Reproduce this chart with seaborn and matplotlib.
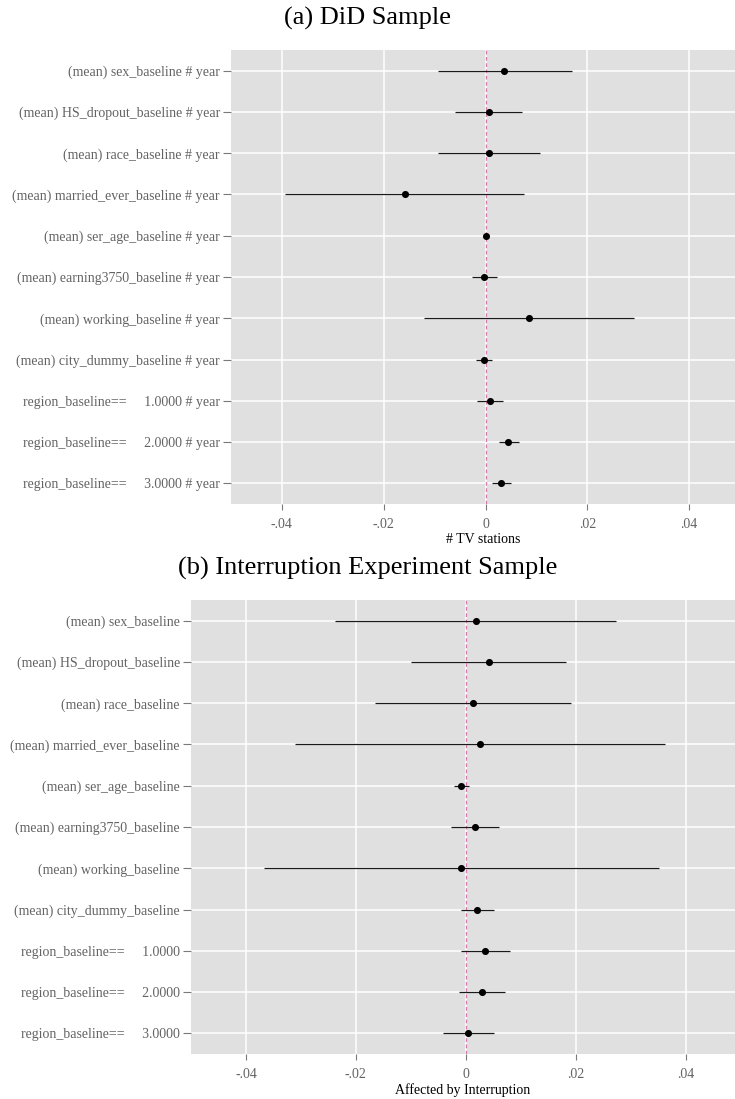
import numpy as np
import pandas as pd
import matplotlib
matplotlib.use("Agg")
import matplotlib.pyplot as plt
import seaborn as sns

# ---- data ----
vars_a = ["(mean) sex_baseline # year", "(mean) HS_dropout_baseline # year",
          "(mean) race_baseline # year", "(mean) married_ever_baseline # year",
          "(mean) ser_age_baseline # year", "(mean) earning3750_baseline # year",
          "(mean) working_baseline # year", "(mean) city_dummy_baseline # year",
          "region_baseline==     1.0000 # year", "region_baseline==     2.0000 # year",
          "region_baseline==     3.0000 # year"]
coef_a = [0.0037, 0.0006, 0.0006, -0.0159, 0.0001, -0.0003, 0.0086, -0.0003, 0.0009, 0.0045, 0.0031]
lo_a = [-0.0094, -0.0060, -0.0094, -0.0394, -0.0003, -0.0027, -0.0120, -0.0018, -0.0016, 0.0026, 0.0012]
hi_a = [0.0169, 0.0072, 0.0107, 0.0076, 0.0004, 0.0023, 0.0291, 0.0013, 0.0035, 0.0065, 0.0050]

vars_b = ["(mean) sex_baseline", "(mean) HS_dropout_baseline", "(mean) race_baseline",
          "(mean) married_ever_baseline", "(mean) ser_age_baseline",
          "(mean) earning3750_baseline", "(mean) working_baseline",
          "(mean) city_dummy_baseline", "region_baseline==     1.0000",
          "region_baseline==     2.0000", "region_baseline==     3.0000"]
coef_b = [0.0018, 0.0042, 0.0013, 0.0026, -0.0008, 0.0016, -0.0008, 0.0021, 0.0035, 0.0029, 0.0005]
lo_b = [-0.0238, -0.0099, -0.0165, -0.0310, -0.0021, -0.0026, -0.0367, -0.0009, -0.0009, -0.0013, -0.0042]
hi_b = [0.0274, 0.0183, 0.0192, 0.0363, 0.0006, 0.0060, 0.0352, 0.0052, 0.0080, 0.0072, 0.0052]

xticks = [-0.04, -0.02, 0, 0.02, 0.04]
xticklabels = ["-.04", "-.02", "0", ".02", ".04"]

title_a = "(a) DiD Sample"
title_b = "(b) Interruption Experiment Sample"
xlabel_a = "# TV stations"
xlabel_b = "Affected by Interruption"

# ---- style ----
sns.set_theme(style="darkgrid")
plt.rcParams["font.family"] = ["Liberation Serif", "DejaVu Serif"]

W, H = 735, 1099
fig = plt.figure(figsize=(W / 100, H / 100), dpi=100)

grey = "#636363"

def panel(rect, labels, coef, lo, hi, xlabel):
    ax = fig.add_axes(rect)
    ax.set_facecolor("#e0e0e0")
    pos = np.arange(len(labels))
    df = pd.DataFrame({"label": labels, "coef": coef, "lo": lo, "hi": hi, "pos": pos})
    ax.axvline(0, color="#d67ab0", lw=0.9, ls=(0, (3, 2)), zorder=2)
    ax.hlines(df["pos"], df["lo"], df["hi"], color="#1a1a1a", lw=0.9, zorder=3)
    sns.scatterplot(data=df, x="coef", y="pos", ax=ax, color="black", s=26,
                    edgecolor="black", linewidth=0, zorder=4, legend=False)
    ax.set_xlim(-0.05, 0.049)
    ax.set_ylim(len(labels) - 0.5, -0.5)
    ax.set_yticks(pos)
    ax.set_yticklabels(labels)
    ax.set_xticks(xticks)
    ax.set_xticklabels(xticklabels)
    ax.grid(True, color="white", lw=1.1)
    ax.set_axisbelow(True)
    for s in ax.spines.values():
        s.set_visible(False)
    ax.tick_params(axis="both", which="both", width=0.8, color="#7a7a7a",
                   labelsize=10, labelcolor=grey, left=True, bottom=True)
    ax.tick_params(axis="x", length=4.5, pad=5.5)
    ax.tick_params(axis="y", length=5.5, pad=2.5)
    ax.set_xlabel(xlabel, fontsize=10, color="black", labelpad=1.5)
    ax.set_ylabel("")
    return ax

ax1 = panel([231 / W, 1 - 504 / H, 1 - 231 / W, 454 / H], vars_a, coef_a, lo_a, hi_a, xlabel_a)
ax2 = panel([191 / W, 1 - 1054 / H, 1 - 191 / W, 454 / H], vars_b, coef_b, lo_b, hi_b, xlabel_b)

fig.text(0.5, 1 - 25 / H, title_a, ha="center", va="baseline", fontsize=19, color="black")
fig.text(0.5, 1 - 575 / H, title_b, ha="center", va="baseline", fontsize=19, color="black")

fig.savefig("out.png", dpi=100)
